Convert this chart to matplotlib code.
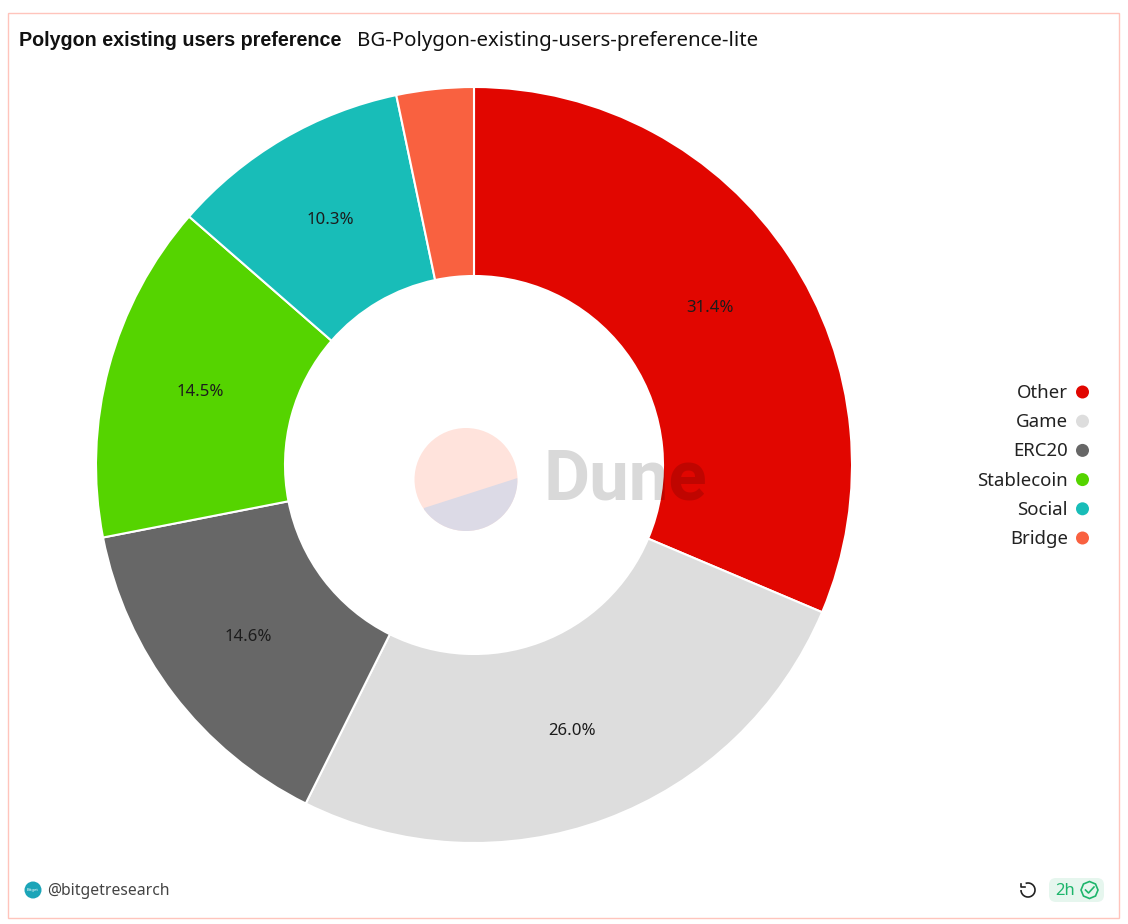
import matplotlib
matplotlib.use('Agg')
import matplotlib.pyplot as plt
from matplotlib.patches import Rectangle, Circle, Polygon, FancyBboxPatch, Arc, RegularPolygon

plt.rcParams['font.family'] = ['Noto Sans', 'DejaVu Sans']

categories = ['Other', 'Game', 'ERC20', 'Stablecoin', 'Social', 'Bridge']
shares = [31.4, 26.0, 14.6, 14.5, 10.3, 3.3]
slice_colors = ['#E10600', '#DDDDDD', '#676767', '#55D400', '#18BDB8', '#F96140']

W, H = 1128, 924

def py(y):
    # picture y (from top) to axes y
    return H - y

fig = plt.figure(figsize=(W / 100, H / 100), dpi=100)
ax = fig.add_axes([0, 0, 1, 1])
ax.set_xlim(0, W)
ax.set_ylim(0, H)
ax.axis('off')

# card border
ax.add_patch(Rectangle((8, py(917.5)), 1111, 904.5, fc='white', ec='#FFC4BC', lw=1))

# donut
wedges, _, pct_texts = ax.pie(
    shares, colors=slice_colors, startangle=90, counterclock=False,
    center=(474, py(465)), radius=378, frame=True,
    wedgeprops={'width': 189, 'edgecolor': 'white', 'linewidth': 1.5},
    autopct='%.1f', pctdistance=0.75, textprops={'fontsize': 12.1, 'color': '#1c1c1c'})
# the labels show the read values, the bridge slice has no label
for value, label in zip(shares, pct_texts):
    label.set_text('{:.1f}%'.format(value) if value > 5 else '')
ax.set_xlim(0, W)
ax.set_ylim(0, H)
ax.set_aspect('auto')
ax.axis('off')

# watermark
logo = Circle((466, py(479.5)), 51.5, fc='#FFE3DC', ec='none', zorder=5)
ax.add_patch(logo)
lower = Polygon([(517.5, py(478)), (424, py(508)), (414, py(540)), (522, py(540))],
                fc='#DCDAE6', ec='none', zorder=5)
ax.add_patch(lower)
lower.set_clip_path(logo)
ax.text(544, py(480), 'Dune', fontsize=51, fontweight='bold', family='Roboto', color='black',
        alpha=0.15, va='center', ha='left', zorder=6)

# titles
ax.text(19, py(40), 'Polygon existing users preference', fontsize=14.2, fontweight='bold',
        family='Liberation Sans', color='#111111', va='center', ha='left')
ax.text(357, py(41), 'BG-Polygon-existing-users-preference-lite', fontsize=14.7,
        color='#111111', va='center', ha='left')

# legend
legend_top = 393
legend_step = 29.2
for i, (name, color) in enumerate(zip(categories, slice_colors)):
    y = legend_top + i * legend_step
    ax.text(1068, py(y), name, fontsize=13.4, color='#222222', va='center', ha='right')
    ax.add_patch(Circle((1082.5, py(y - 1)), 6.5, fc=color, ec='none'))

# footer left
ax.add_patch(Circle((33, py(890)), 8.5, fc='#1CA5B8', ec='none'))
ax.text(33, py(890), 'Bitget', fontsize=3, color='white', va='center', ha='center')
ax.text(47, py(891), '@bitgetresearch', fontsize=11.3, color='#444444', va='center', ha='left')

# footer right
ax.add_patch(Arc((1028, py(890)), 14, 14, theta1=-180, theta2=110, color='#222222', lw=1.2))
ax.plot([1024.5, 1021, 1021], [py(887), py(887), py(883.5)], color='#222222', lw=1.2)
ax.add_patch(FancyBboxPatch((1054, py(897)), 45, 14, boxstyle='round,pad=5,rounding_size=7',
                            fc='#E6F6EE', ec='none'))
ax.text(1055, py(891), '2h', fontsize=12, color='#1DB56B', va='center', ha='left')
ax.add_patch(RegularPolygon((1089.5, py(890)), 8, radius=8.5, fc='none', ec='#1DB56B', lw=1.2))
ax.plot([1085.5, 1088.5, 1094], [py(890), py(893), py(887)], color='#1DB56B', lw=1.2)

fig.savefig('out.png', dpi=100, facecolor='white')
